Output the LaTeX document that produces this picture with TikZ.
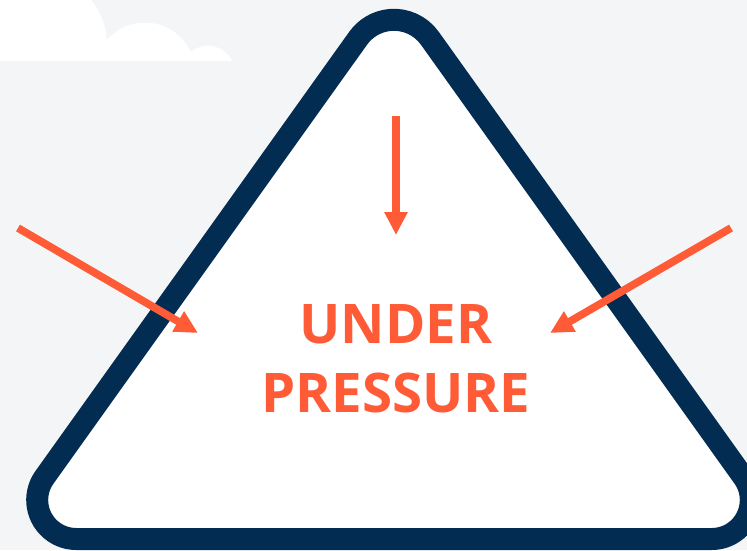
\documentclass[tikz,border=0pt]{standalone}
\usepackage{fontspec}
\setmainfont{Open Sans}
\usetikzlibrary{arrows.meta}
\definecolor{bggray}{HTML}{F4F5F7}
\definecolor{navy}{HTML}{022C51}
\definecolor{warn}{HTML}{FF5B36}
\begin{document}
\begin{tikzpicture}[x=1pt,y=1pt,
  pressarrow/.style={draw=warn,line width=7.7pt,-{Triangle[length=23pt,width=22pt]}},
  label/.style={text=warn,font=\fontsize{54.6}{60}\selectfont\bfseries,anchor=base,inner sep=0pt}]
\useasboundingbox (0,0) rectangle (747,550);
\fill[bggray] (0,0) rectangle (747,550);
% cloud
\begin{scope}
\clip (0,489) rectangle (747,550);
\fill[white] (35,505) circle[radius=72];
\fill[white] (145,477) circle[radius=50.4];
\fill[white] (208,477.8) circle[radius=26.5];
\end{scope}
% triangle
\draw[navy,line width=22pt,fill=white,line join=round]
  (76.2,11) -- (711.8,11) arc[start angle=-90,end angle=35.5,radius=39]
  -- (429.8,511.75) arc[start angle=35.5,end angle=144.5,radius=44]
  -- (44.45,72.65) arc[start angle=144.5,end angle=270,radius=39] -- cycle;
% text
\node[label] (under) at (396,206.7) {UNDER};
\node[label] (pressure) at (396,137.3) {PRESSURE};
% arrows
\coordinate (topS) at (396,434);
\coordinate (topE) at (396,315);
\coordinate (leftS) at (18,322);
\coordinate (leftE) at (198,217);
\coordinate (rightS) at (731,322);
\coordinate (rightE) at (550,217);
\draw[pressarrow] (topS) -- (topE);
\draw[pressarrow] (leftS) -- (leftE);
\draw[pressarrow] (rightS) -- (rightE);
\end{tikzpicture}
\end{document}
